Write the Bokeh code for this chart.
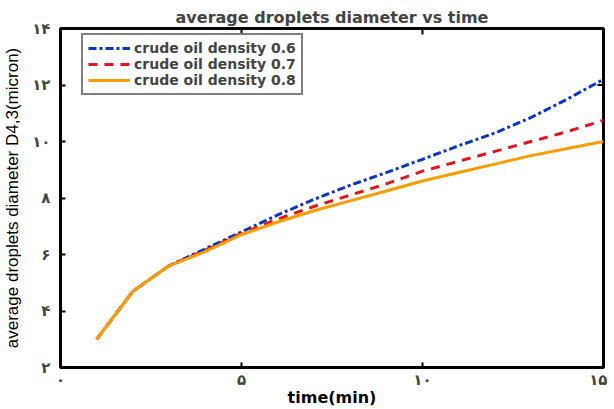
import math
from bokeh.plotting import figure
from bokeh.models import FixedTicker, Legend, LegendItem, Range1d
from bokeh.embed import file_html
from bokeh.resources import INLINE

# Data
time_min = [1, 2, 3, 4, 5, 6, 7, 8, 9, 10, 11, 12, 13, 14, 15]
density_06 = [3.0, 4.7, 5.6, 6.2, 6.8, 7.4, 7.95, 8.45, 8.9, 9.37, 9.85, 10.3, 10.85, 11.5, 12.2]
density_07 = [3.0, 4.7, 5.6, 6.15, 6.75, 7.25, 7.7, 8.1, 8.5, 8.95, 9.3, 9.65, 10.0, 10.35, 10.75]
density_08 = [3.0, 4.7, 5.6, 6.1, 6.7, 7.15, 7.55, 7.9, 8.25, 8.6, 8.9, 9.2, 9.5, 9.75, 10.0]

x_ticks = [0, 5, 10, 15]
x_tick_labels = ["۰", "۵", "۱۰", "۱۵"]
y_ticks = [2, 4, 6, 8, 10, 12, 14]
y_tick_labels = ["۲", "۴", "۶", "۸", "۱۰", "۱۲", "۱۴"]
top_tick_x = [5, 10]
right_tick_y = [12]

series_names = ["crude oil density 0.6", "crude oil density 0.7", "crude oil density 0.8"]
colors = ["#0a36c4", "#e3141b", "#f99d00"]
dashes = ["8 3 3 3", "9 7", "solid"]

FONT = "Liberation Sans"
WIDE = "DejaVu Sans"

p = figure(frame_width=543, frame_height=339, output_backend="svg", toolbar_location=None,
           x_range=Range1d(0, 15), y_range=Range1d(2, 14),
           title="average droplets diameter vs time",
           min_border_left=50, min_border_right=4, min_border_top=28, min_border_bottom=26)

p.title.text_font = WIDE
p.title.text_font_style = "bold"
p.title.text_font_size = "16px"
p.title.align = "center"
p.title.offset = 0
p.title.standoff = 4

p.grid.visible = False
p.outline_line_color = "black"
p.outline_line_width = 3

for ax, ticks, labels in [(p.xaxis[0], x_ticks, x_tick_labels), (p.yaxis[0], y_ticks, y_tick_labels)]:
    ax.ticker = FixedTicker(ticks=ticks)
    ax.major_label_overrides = {t: l for t, l in zip(ticks, labels)}
    ax.major_label_text_font = WIDE
    ax.major_label_text_font_style = "bold"
    ax.major_label_text_font_size = "15px"
    ax.major_tick_in = 5
    ax.major_tick_out = 0
    ax.major_tick_line_width = 2
    ax.minor_tick_line_color = None
    ax.axis_line_width = 3
    ax.axis_label_text_color = "black"

p.xaxis[0].axis_label = "time(min)"
p.xaxis[0].axis_label_text_font = WIDE
p.xaxis[0].axis_label_text_font_style = "bold"
p.xaxis[0].axis_label_text_font_size = "16px"
p.xaxis[0].axis_label_standoff = -4
p.xaxis[0].major_label_standoff = 3

p.yaxis[0].axis_label = "average droplets diameter D4,3(micron)"
p.yaxis[0].axis_label_text_font = FONT
p.yaxis[0].axis_label_text_font_style = "normal"
p.yaxis[0].axis_label_text_font_size = "17px"
p.yaxis[0].axis_label_standoff = 7
p.yaxis[0].major_label_standoff = 10

# box ticks on top and right edges (inward)
p.ray(x=top_tick_x, y=[14] * len(top_tick_x), length=6, length_units="screen",
      angle=-math.pi / 2, line_color="black", line_width=2)
p.ray(x=[15] * len(right_tick_y), y=right_tick_y, length=6, length_units="screen",
      angle=math.pi, line_color="black", line_width=2)

items = []
for name, ys, c, d in zip(series_names, [density_06, density_07, density_08], colors, dashes):
    r = p.line(time_min, ys, line_color=c, line_width=3, line_dash=d)
    items.append(LegendItem(label=name, renderers=[r]))

legend = Legend(items=items, location=(21, 272))
legend.label_text_font = WIDE
legend.label_text_font_style = "bold"
legend.label_text_font_size = "14px"
legend.label_height = 14
legend.label_standoff = 4
legend.glyph_width = 42
legend.glyph_height = 14
legend.spacing = 0
legend.padding = 5
legend.margin = 0
legend.border_line_color = "black"
legend.border_line_width = 2.5
p.add_layout(legend)

open("out.html", "w").write(file_html(p, INLINE))
